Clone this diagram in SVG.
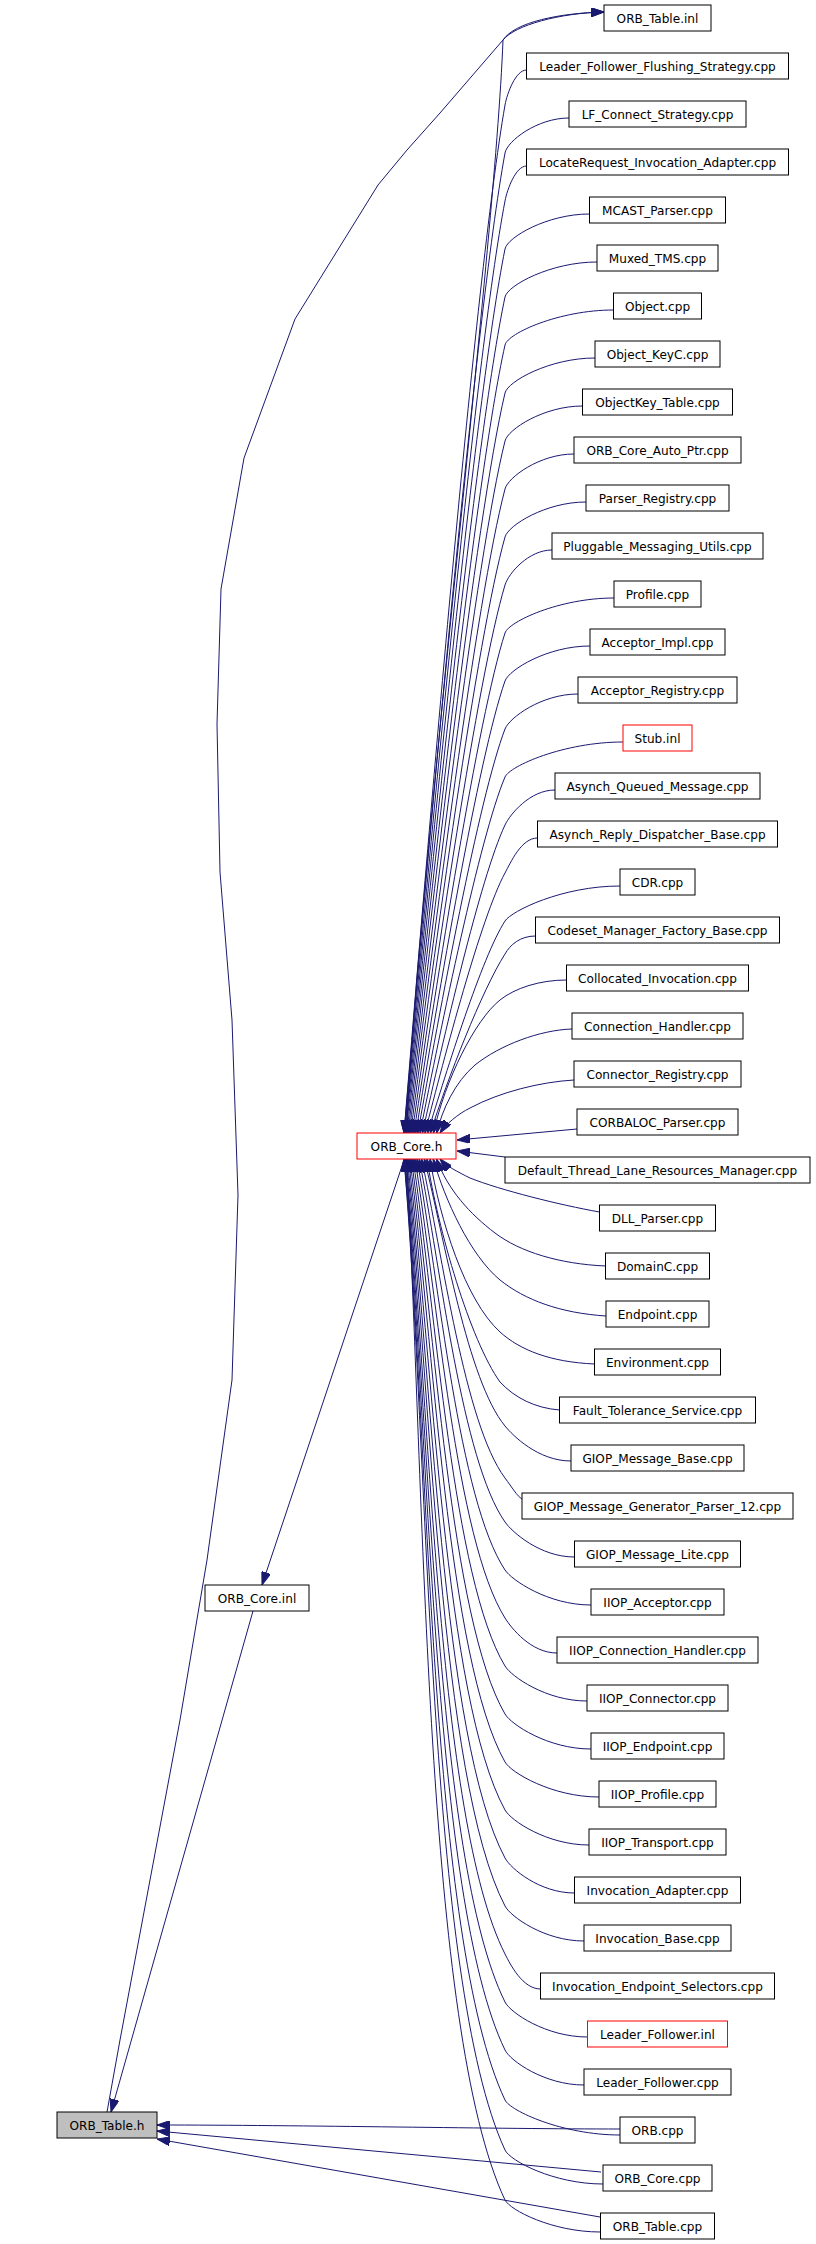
<svg xmlns="http://www.w3.org/2000/svg" width="816" height="2244" viewBox="0 0 816 2244">
<style>
.n rect{fill:#fff;stroke:#000;stroke-width:1}
.r rect{stroke:#f00}
.g rect{fill:#bfbfbf}
text{font-family:"DejaVu Sans","Liberation Sans",sans-serif;font-size:12.1px;text-anchor:middle;fill:#000}
#edges path{fill:none;stroke:#191970;stroke-width:1;marker-end:url(#a);stroke-linejoin:round}
</style>
<defs>
<marker id="a" viewBox="0 0 13 9" refX="13" refY="4.5" markerWidth="13" markerHeight="9" markerUnits="userSpaceOnUse" orient="auto">
<path d="M0,0 L13,4.5 L0,9 z" fill="#191970" stroke="#191970" stroke-width="1"/>
</marker>
</defs>
<rect width="816" height="2244" fill="#fff"/>
<g id="edges">
<path d="M107,2112 L120,2040 L180,1720 L207,1560 L232,1380 L238,1195 L232,1020 L220,872 L217,724 L221,589 L244,458 L295,319 L378,185 L407,150 L440,113 L503,40 C515,25 560,13 604,12"/>
<path d="M600.5,2232 C552,2232 510,2210 505,2200 C425,2030 425,1500 406,1146 C415,900 495,250 503,40 C515,22 560,13 604,12"/>
<path d="M404,1160 L262,1585"/>
<path d="M253,1611 L111,2112"/>
<path d="M620,2129 C500,2129 300,2125 157,2125"/>
<path d="M601,2172 L157,2131"/>
<path d="M600,2217 L157,2139"/>
<path d="M526.5,70 C515.8,70 507.1,93.2 505,105 C474.7,279.8 429.3,824.6 404,1133"/>
<path d="M569,118 C537,118 507.1,141.2 505,153 C474.7,319.6 429.3,839 404.1,1133"/>
<path d="M526.5,166 C515.8,166 507.2,189.2 505,201 C474.8,359.4 429.5,853.4 404.3,1133"/>
<path d="M589.5,214 C547.3,214 507.4,237.2 505,249 C474.9,399.3 429.8,867.8 404.7,1133"/>
<path d="M597,262 C551,262 507.5,285.3 505,297 C475.1,439.1 430.2,882.2 405.3,1133"/>
<path d="M613.5,310 C559.3,310 507.6,333.3 505,345 C475.3,479 430.8,896.6 406,1133"/>
<path d="M595,358 C550,358 507.7,381.3 505,393 C475.6,518.8 431.4,911 406.9,1133"/>
<path d="M582.5,406 C543.8,406 507.9,429.3 505,441 C475.9,558.6 432.3,925.4 408,1133"/>
<path d="M574,454 C539.5,454 508,477.4 505,489 C476.3,598.5 433.2,939.8 409.2,1133"/>
<path d="M586,502 C545.5,502 508.2,525.4 505,537 C476.7,638.3 434.2,954.2 410.6,1133"/>
<path d="M552,550 C528.5,550 508.4,573.5 505,585 C477.2,678.2 435.4,968.6 412.2,1133"/>
<path d="M614,598 C559.5,598 508.7,621.6 505,633 C477.7,718 436.7,983 413.9,1133"/>
<path d="M590,646 C547.5,646 509,669.7 505,681 C478.2,757.8 438.1,997.4 415.8,1133"/>
<path d="M578,694 C541.5,694 509.3,717.8 505,729 C478.8,797.7 439.6,1011.8 417.8,1133"/>
<path d="M623,742 C564,742 509.7,766 505,777 C479.5,837.5 441.3,1026.2 420,1133"/>
<path d="M555,790 C530,790 510.1,814.2 505,825 C480.2,877.4 443.1,1040.6 422.4,1133"/>
<path d="M537.5,838 C521.3,838 510.7,862.5 505,873 C481,917.2 444.9,1055 424.9,1133"/>
<path d="M620,886 C562.5,886 511.5,910.9 505,921 C481.8,957 447,1069.4 427.6,1133"/>
<path d="M535.5,936 C520,936 510,945 505,954 C482,990 447,1080 430.4,1133"/>
<path d="M566.5,980 C540,980 515,988 500,1000 C475,1020 445,1080 433.5,1133"/>
<path d="M572,1029 C540,1030 500,1045 475,1065 C455,1082 442,1110 436.7,1133"/>
<path d="M574,1080 C540,1082 500,1092 470,1108 C458,1114 446,1124 440,1133"/>
<path d="M577,1129 L457,1140"/>
<path d="M505,1157 L457,1151"/>
<path d="M599.5,1212 C560,1205 500,1190 470,1178 C458,1172 446,1166 440,1159"/>
<path d="M605.5,1266 C560,1264 520,1252 495,1233 C470,1214 448,1190 436.5,1159"/>
<path d="M606,1316 C560,1313 525,1300 500,1280 C470,1255 445,1200 433.2,1159"/>
<path d="M594.5,1364 C550,1362 520,1350 500,1332 C465,1300 440,1220 430,1159"/>
<path d="M559.5,1410 C535,1408 515,1398 500,1382 C470,1340 438,1230 427,1159"/>
<path d="M571,1461 C538,1461 512.6,1435.3 505,1426 C467.6,1380.6 444.5,1239.1 424.3,1159"/>
<path d="M522,1499 C517,1496 512.2,1487.6 505,1478 C464.5,1423.8 442.5,1254.7 421.6,1159"/>
<path d="M574.5,1557 C539.8,1557 511.9,1531.8 505,1522 C461.8,1460.3 440.7,1267.9 419.2,1159"/>
<path d="M591,1605 C548,1605 511.6,1580 505,1570 C458.8,1500.1 439,1282.3 417,1159"/>
<path d="M557,1653 C531,1653 511.4,1628.2 505,1618 C455.9,1540 437.4,1296.7 414.9,1159"/>
<path d="M587,1701 C546,1701 511.2,1676.3 505,1666 C452.9,1579.8 436,1311.1 413,1159"/>
<path d="M591,1749 C548,1749 511,1724.4 505,1714 C450.1,1619.6 434.7,1325.5 411.3,1159"/>
<path d="M599,1797 C552,1797 510.9,1772.5 505,1762 C447.3,1659.5 433.6,1339.9 409.8,1159"/>
<path d="M589,1845 C547,1845 510.8,1820.5 505,1810 C444.4,1699.3 432.6,1354.3 408.4,1159"/>
<path d="M574.5,1893 C539.8,1893 510.6,1868.6 505,1858 C441.7,1739.2 431.7,1368.7 407.2,1159"/>
<path d="M584,1941 C544.5,1941 510.5,1916.6 505,1906 C439.1,1779 431,1383.1 406.3,1159"/>
<path d="M540.5,1989 C522.8,1989 510.4,1964.7 505,1954 C436.5,1818.8 430.3,1397.5 405.4,1159"/>
<path d="M587.5,2037 C546.3,2037 510.3,2012.8 505,2002 C434.1,1858.7 429.9,1411.9 404.8,1159"/>
<path d="M584,2085 C544.5,2085 510.2,2060.8 505,2050 C431.7,1898.5 429.6,1426.3 404.4,1159"/>
<path d="M620,2135 C562.5,2135 510.1,2110.8 505,2100 C429.3,1940 429.3,1441.3 404.1,1159"/>
<path d="M603,2184 C554,2184 510,2160.9 505,2150 C427.2,1981.5 429.3,1456.3 404,1159"/>
</g>
<g id="ORB_Table_h" class="n g"><rect x="57" y="2112" width="100" height="26"/><text x="107" y="2129.5">ORB_Table.h</text></g>
<g id="ORB_Core_inl" class="n"><rect x="205" y="1585" width="104" height="26"/><text x="257" y="1602.5">ORB_Core.inl</text></g>
<g id="ORB_Core_h" class="n r"><rect x="357" y="1133" width="99" height="26"/><text x="406.5" y="1150.5">ORB_Core.h</text></g>
<g id="n0" class="n"><rect x="604" y="5" width="107" height="26"/><text x="657.5" y="22.5">ORB_Table.inl</text></g>
<g id="n1" class="n"><rect x="526.5" y="53" width="262" height="26"/><text x="657.5" y="70.5">Leader_Follower_Flushing_Strategy.cpp</text></g>
<g id="n2" class="n"><rect x="569" y="101" width="177" height="26"/><text x="657.5" y="118.5">LF_Connect_Strategy.cpp</text></g>
<g id="n3" class="n"><rect x="526.5" y="149" width="262" height="26"/><text x="657.5" y="166.5">LocateRequest_Invocation_Adapter.cpp</text></g>
<g id="n4" class="n"><rect x="589.5" y="197" width="136" height="26"/><text x="657.5" y="214.5">MCAST_Parser.cpp</text></g>
<g id="n5" class="n"><rect x="597" y="245" width="121" height="26"/><text x="657.5" y="262.5">Muxed_TMS.cpp</text></g>
<g id="n6" class="n"><rect x="613.5" y="293" width="88" height="26"/><text x="657.5" y="310.5">Object.cpp</text></g>
<g id="n7" class="n"><rect x="595" y="341" width="125" height="26"/><text x="657.5" y="358.5">Object_KeyC.cpp</text></g>
<g id="n8" class="n"><rect x="582.5" y="389" width="150" height="26"/><text x="657.5" y="406.5">ObjectKey_Table.cpp</text></g>
<g id="n9" class="n"><rect x="574" y="437" width="167" height="26"/><text x="657.5" y="454.5">ORB_Core_Auto_Ptr.cpp</text></g>
<g id="n10" class="n"><rect x="586" y="485" width="143" height="26"/><text x="657.5" y="502.5">Parser_Registry.cpp</text></g>
<g id="n11" class="n"><rect x="552" y="533" width="211" height="26"/><text x="657.5" y="550.5">Pluggable_Messaging_Utils.cpp</text></g>
<g id="n12" class="n"><rect x="614" y="581" width="87" height="26"/><text x="657.5" y="598.5">Profile.cpp</text></g>
<g id="n13" class="n"><rect x="590" y="629" width="135" height="26"/><text x="657.5" y="646.5">Acceptor_Impl.cpp</text></g>
<g id="n14" class="n"><rect x="578" y="677" width="159" height="26"/><text x="657.5" y="694.5">Acceptor_Registry.cpp</text></g>
<g id="n15" class="n r"><rect x="623" y="725" width="69" height="26"/><text x="657.5" y="742.5">Stub.inl</text></g>
<g id="n16" class="n"><rect x="555" y="773" width="205" height="26"/><text x="657.5" y="790.5">Asynch_Queued_Message.cpp</text></g>
<g id="n17" class="n"><rect x="537.5" y="821" width="240" height="26"/><text x="657.5" y="838.5">Asynch_Reply_Dispatcher_Base.cpp</text></g>
<g id="n18" class="n"><rect x="620" y="869" width="75" height="26"/><text x="657.5" y="886.5">CDR.cpp</text></g>
<g id="n19" class="n"><rect x="535.5" y="917" width="244" height="26"/><text x="657.5" y="934.5">Codeset_Manager_Factory_Base.cpp</text></g>
<g id="n20" class="n"><rect x="566.5" y="965" width="182" height="26"/><text x="657.5" y="982.5">Collocated_Invocation.cpp</text></g>
<g id="n21" class="n"><rect x="572" y="1013" width="171" height="26"/><text x="657.5" y="1030.5">Connection_Handler.cpp</text></g>
<g id="n22" class="n"><rect x="574" y="1061" width="167" height="26"/><text x="657.5" y="1078.5">Connector_Registry.cpp</text></g>
<g id="n23" class="n"><rect x="577" y="1109" width="161" height="26"/><text x="657.5" y="1126.5">CORBALOC_Parser.cpp</text></g>
<g id="n24" class="n"><rect x="505" y="1157" width="305" height="26"/><text x="657.5" y="1174.5">Default_Thread_Lane_Resources_Manager.cpp</text></g>
<g id="n25" class="n"><rect x="599.5" y="1205" width="116" height="26"/><text x="657.5" y="1222.5">DLL_Parser.cpp</text></g>
<g id="n26" class="n"><rect x="605.5" y="1253" width="104" height="26"/><text x="657.5" y="1270.5">DomainC.cpp</text></g>
<g id="n27" class="n"><rect x="606" y="1301" width="103" height="26"/><text x="657.5" y="1318.5">Endpoint.cpp</text></g>
<g id="n28" class="n"><rect x="594.5" y="1349" width="126" height="26"/><text x="657.5" y="1366.5">Environment.cpp</text></g>
<g id="n29" class="n"><rect x="559.5" y="1397" width="196" height="26"/><text x="657.5" y="1414.5">Fault_Tolerance_Service.cpp</text></g>
<g id="n30" class="n"><rect x="571" y="1445" width="173" height="26"/><text x="657.5" y="1462.5">GIOP_Message_Base.cpp</text></g>
<g id="n31" class="n"><rect x="522" y="1493" width="271" height="26"/><text x="657.5" y="1510.5">GIOP_Message_Generator_Parser_12.cpp</text></g>
<g id="n32" class="n"><rect x="574.5" y="1541" width="166" height="26"/><text x="657.5" y="1558.5">GIOP_Message_Lite.cpp</text></g>
<g id="n33" class="n"><rect x="591" y="1589" width="133" height="26"/><text x="657.5" y="1606.5">IIOP_Acceptor.cpp</text></g>
<g id="n34" class="n"><rect x="557" y="1637" width="201" height="26"/><text x="657.5" y="1654.5">IIOP_Connection_Handler.cpp</text></g>
<g id="n35" class="n"><rect x="587" y="1685" width="141" height="26"/><text x="657.5" y="1702.5">IIOP_Connector.cpp</text></g>
<g id="n36" class="n"><rect x="591" y="1733" width="133" height="26"/><text x="657.5" y="1750.5">IIOP_Endpoint.cpp</text></g>
<g id="n37" class="n"><rect x="599" y="1781" width="117" height="26"/><text x="657.5" y="1798.5">IIOP_Profile.cpp</text></g>
<g id="n38" class="n"><rect x="589" y="1829" width="137" height="26"/><text x="657.5" y="1846.5">IIOP_Transport.cpp</text></g>
<g id="n39" class="n"><rect x="574.5" y="1877" width="166" height="26"/><text x="657.5" y="1894.5">Invocation_Adapter.cpp</text></g>
<g id="n40" class="n"><rect x="584" y="1925" width="147" height="26"/><text x="657.5" y="1942.5">Invocation_Base.cpp</text></g>
<g id="n41" class="n"><rect x="540.5" y="1973" width="234" height="26"/><text x="657.5" y="1990.5">Invocation_Endpoint_Selectors.cpp</text></g>
<g id="n42" class="n r"><rect x="587.5" y="2021" width="140" height="26"/><text x="657.5" y="2038.5">Leader_Follower.inl</text></g>
<g id="n43" class="n"><rect x="584" y="2069" width="147" height="26"/><text x="657.5" y="2086.5">Leader_Follower.cpp</text></g>
<g id="n44" class="n"><rect x="620" y="2117" width="75" height="26"/><text x="657.5" y="2134.5">ORB.cpp</text></g>
<g id="n45" class="n"><rect x="603" y="2165" width="109" height="26"/><text x="657.5" y="2182.5">ORB_Core.cpp</text></g>
<g id="n46" class="n"><rect x="600.5" y="2213" width="114" height="26"/><text x="657.5" y="2230.5">ORB_Table.cpp</text></g>
</svg>
